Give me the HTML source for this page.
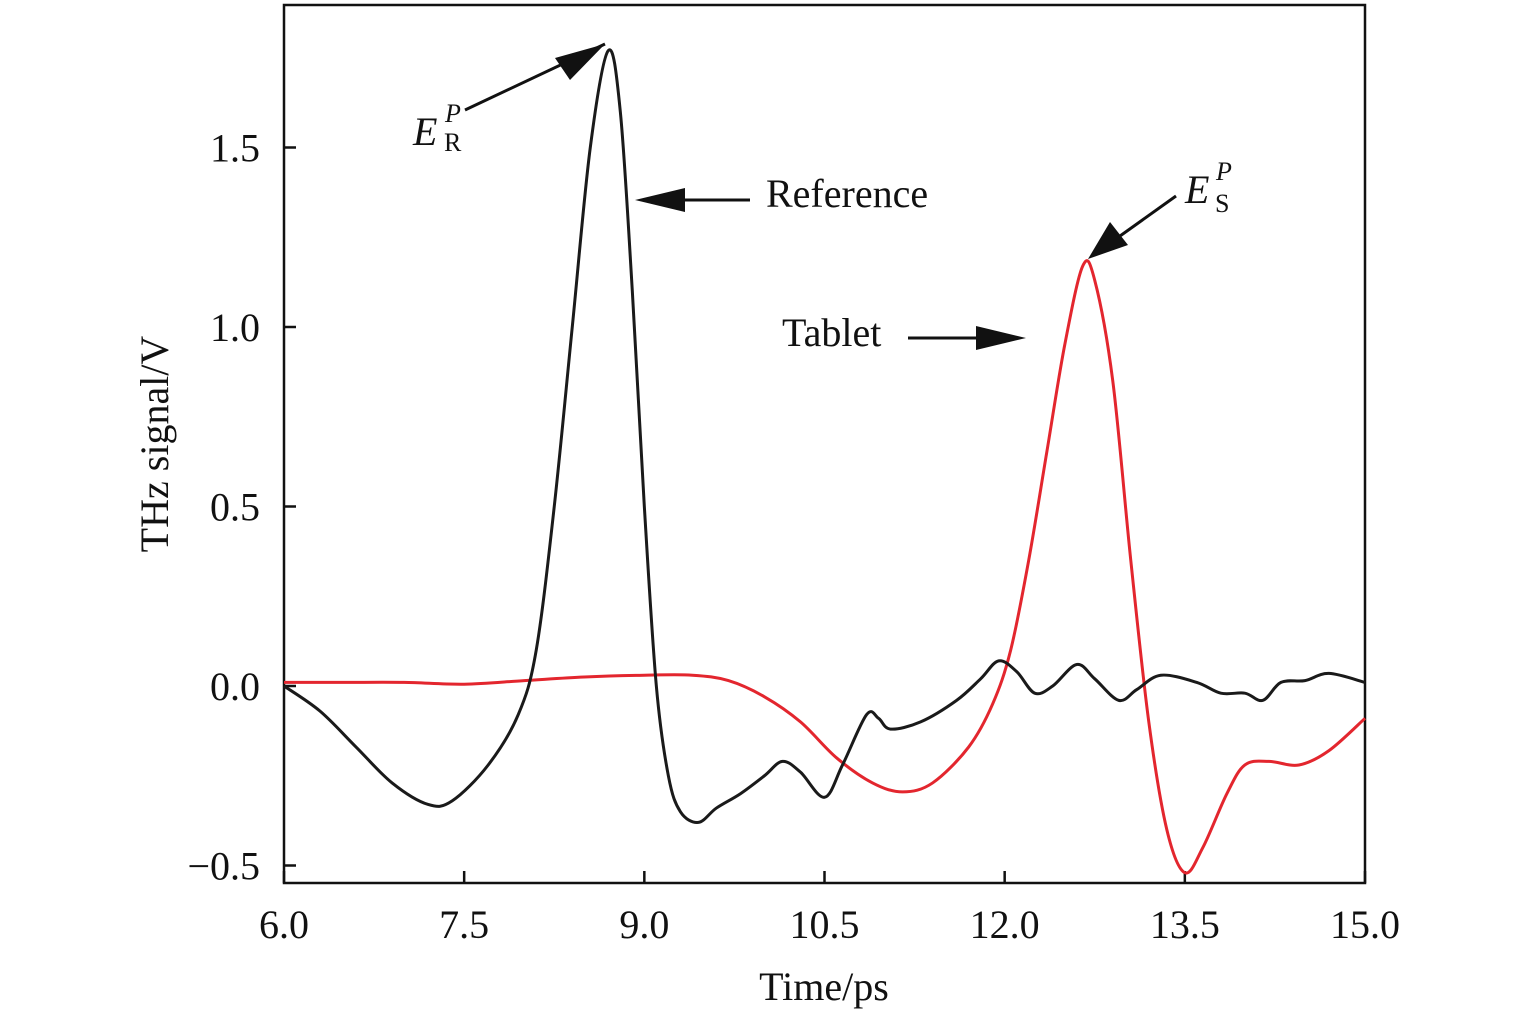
<!DOCTYPE html>
<html><head><meta charset="utf-8"><style>
body{margin:0;background:#fff}
svg text{font-family:"Liberation Serif",serif;fill:#111}
</style></head><body>
<svg id="chart" width="1535" height="1020" viewBox="0 0 1535 1020" xmlns="http://www.w3.org/2000/svg">
<defs><marker id="ah" markerWidth="10" markerHeight="8" refX="9" refY="4" orient="auto" markerUnits="userSpaceOnUse" viewBox="0 0 10 8"><path d="M0,0 L10,4 L0,8 z" fill="#111"/></marker></defs>
<g id="axes"></g>
<g id="series"></g>
<g id="annot">
 <line x1="465" y1="110" x2="605" y2="44" stroke="#111" stroke-width="3"/>
 <path d="M605,44 L555,58 L570,80 z" fill="#111"/>
 <text x="413" y="145" font-size="40" font-style="italic">E</text>
 <text x="445" y="122" font-size="26" font-style="italic">P</text>
 <text x="444" y="151" font-size="26">R</text>
 <line x1="750" y1="200" x2="680" y2="200" stroke="#111" stroke-width="3"/>
 <path d="M635,200 L685,188 L685,212 z" fill="#111"/>
 <text x="766" y="207" font-size="40">Reference</text>
 <text x="782" y="346" font-size="40">Tablet</text>
 <line x1="908" y1="338" x2="980" y2="338" stroke="#111" stroke-width="3"/>
 <path d="M1026,338 L976,326 L976,350 z" fill="#111"/>
 <line x1="1176" y1="196" x2="1120" y2="236" stroke="#111" stroke-width="3"/>
 <path d="M1088,259 L1110,222 L1128,245 z" fill="#111"/>
 <text x="1185" y="203" font-size="40" font-style="italic">E</text>
 <text x="1216" y="180" font-size="26" font-style="italic">P</text>
 <text x="1215" y="212" font-size="26">S</text>
</g>
</svg>
<script>
const xTicks=[6.0,7.5,9.0,10.5,12.0,13.5,15.0];
const xTickLabels=["6.0","7.5","9.0","10.5","12.0","13.5","15.0"];
const yTicks=[-0.5,0,0.5,1.0,1.5];
const yTickLabels=["\u22120.5","0.0","0.5","1.0","1.5"];
const refT=[6.0,6.3,6.6,6.9,7.2,7.4,7.7,7.95,8.1,8.25,8.4,8.55,8.7,8.8,8.9,9.0,9.1,9.2,9.3,9.45,9.6,9.8,10.0,10.15,10.3,10.5,10.65,10.85,10.95,11.05,11.3,11.6,11.8,11.95,12.1,12.25,12.4,12.6,12.75,12.95,13.1,13.3,13.6,13.8,14.0,14.15,14.3,14.5,14.7,15.0];
const refV=[0.0,-0.07,-0.17,-0.27,-0.33,-0.32,-0.22,-0.08,0.1,0.5,1.0,1.5,1.77,1.6,1.1,0.5,0.0,-0.25,-0.35,-0.38,-0.34,-0.3,-0.25,-0.21,-0.24,-0.31,-0.22,-0.08,-0.09,-0.12,-0.1,-0.04,0.02,0.07,0.04,-0.02,0.0,0.06,0.02,-0.04,-0.01,0.03,0.01,-0.02,-0.02,-0.04,0.01,0.015,0.035,0.01];
const tabT=[6.0,6.5,7.0,7.5,8.0,8.5,9.0,9.4,9.7,10.0,10.3,10.6,10.9,11.15,11.4,11.7,11.9,12.05,12.2,12.35,12.5,12.65,12.75,12.9,13.05,13.2,13.35,13.5,13.65,13.85,14.0,14.2,14.45,14.7,15.0];
const tabV=[0.01,0.01,0.01,0.005,0.015,0.025,0.03,0.03,0.015,-0.03,-0.1,-0.2,-0.27,-0.295,-0.27,-0.17,-0.05,0.1,0.35,0.65,0.95,1.17,1.13,0.85,0.35,-0.1,-0.4,-0.52,-0.45,-0.3,-0.22,-0.21,-0.22,-0.18,-0.09];
const L=284,R=1365,T=5,B=883;
const sx=v=>L+(v-6)*(R-L)/9;
const sy=v=>686-v*359;
const NS="http://www.w3.org/2000/svg";
function mk(tag,attrs,parent){const e=document.createElementNS(NS,tag);for(const k in attrs)e.setAttribute(k,attrs[k]);parent.appendChild(e);return e;}
const ax=document.getElementById('axes');
const frame=mk('rect',{x:L,y:T,width:R-L,height:B-T,fill:'none',stroke:'#111','stroke-width':2.5},ax);


xTicks.forEach((v,i)=>{
 const t=mk('line',{x1:sx(v),x2:sx(v),y1:B,y2:B-12,stroke:'#111','stroke-width':2.5},ax);
 
 
 const tx=mk('text',{x:sx(v),y:B+55,'font-size':40,'text-anchor':'middle'},ax);tx.textContent=xTickLabels[i];
 
 
});
yTicks.forEach((v,i)=>{
 const t=mk('line',{x1:L,x2:L+12,y1:sy(v),y2:sy(v),stroke:'#111','stroke-width':2.5},ax);
 
 
 const tx=mk('text',{x:L-24,y:sy(v)+14,'font-size':40,'text-anchor':'end'},ax);tx.textContent=yTickLabels[i];
 
 
});
const xt=mk('text',{x:824,y:1000,'font-size':40,'text-anchor':'middle'},ax);xt.textContent='Time/ps';


const yt=mk('text',{x:0,y:0,'font-size':40,'text-anchor':'middle',transform:'translate(168,444) rotate(-90)'},ax);yt.textContent='THz signal/V';


function path(ts,vs){const p=ts.map((t,i)=>[sx(t),sy(vs[i])]);let d='M'+p[0][0]+','+p[0][1];
 for(let i=0;i<p.length-1;i++){const p0=p[Math.max(0,i-1)],p1=p[i],p2=p[i+1],p3=p[Math.min(p.length-1,i+2)];
 const c1=[p1[0]+(p2[0]-p0[0])/6,p1[1]+(p2[1]-p0[1])/6],c2=[p2[0]-(p3[0]-p1[0])/6,p2[1]-(p3[1]-p1[1])/6];
 d+=` C${c1[0]},${c1[1]} ${c2[0]},${c2[1]} ${p2[0]},${p2[1]}`;}return d;}
const sg=document.getElementById('series');
const tl=mk('path',{d:path(tabT,tabV),fill:'none',stroke:'#e3262e','stroke-width':3},sg);


const rl=mk('path',{d:path(refT,refV),fill:'none',stroke:'#1a1a1a','stroke-width':3},sg);


</script>
</body></html>
